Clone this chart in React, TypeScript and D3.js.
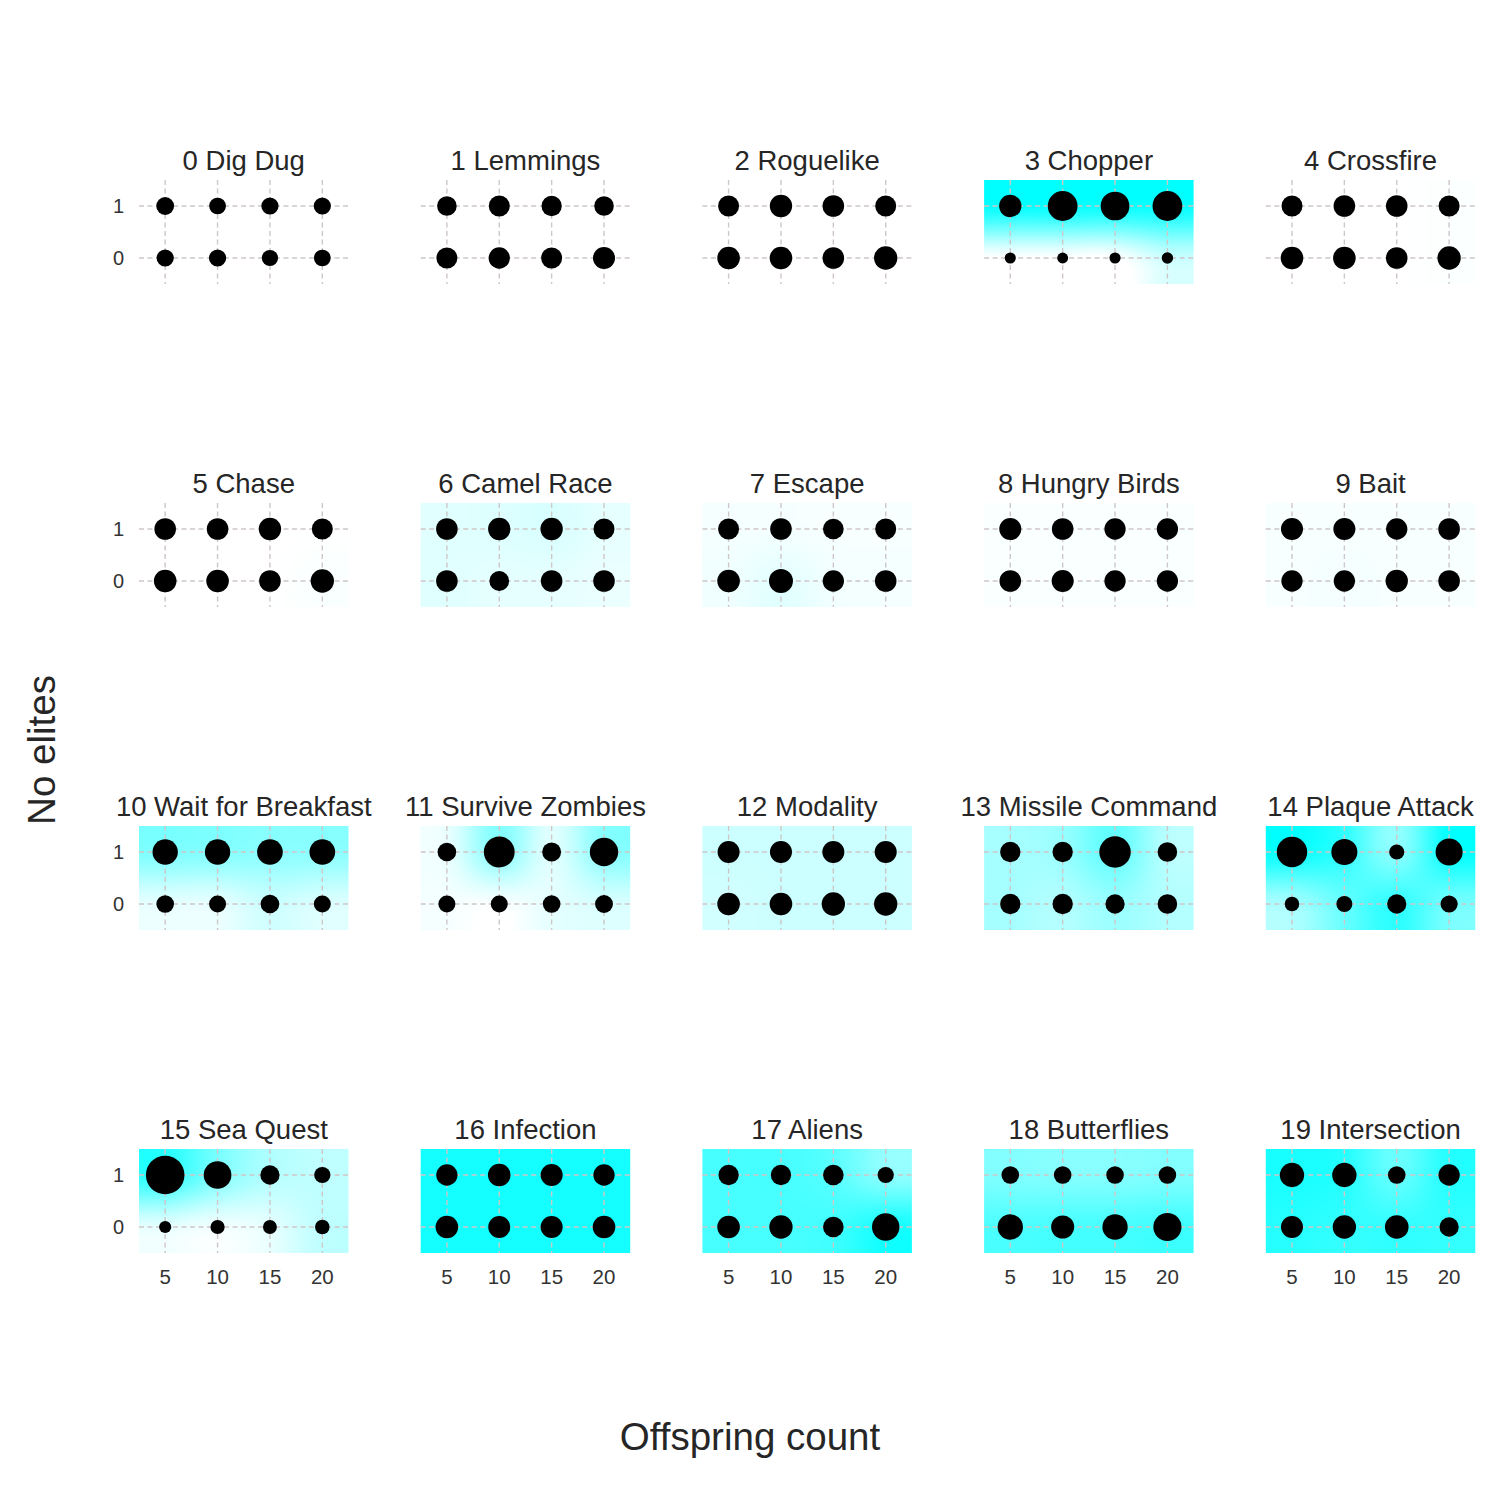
import React, { useMemo } from "react";
import * as d3 from "d3";

const gameNames = [
  "0 Dig Dug", "1 Lemmings", "2 Roguelike", "3 Chopper", "4 Crossfire",
  "5 Chase", "6 Camel Race", "7 Escape", "8 Hungry Birds", "9 Bait",
  "10 Wait for Breakfast", "11 Survive Zombies", "12 Modality", "13 Missile Command", "14 Plaque Attack",
  "15 Sea Quest", "16 Infection", "17 Aliens", "18 Butterflies", "19 Intersection",
];
const offspringCounts = [5, 10, 15, 20];
const eliteLevels = [1, 0];
const xTickLabels = ["5", "10", "15", "20"];
const yTickLabels = ["0", "1"];

// dot magnitude per panel: first 4 = elites 1 (offspring 5..20), last 4 = elites 0
const dotSizes = [
  [77, 68, 72, 72, 72, 72, 64, 68],
  [93, 107, 100, 93, 107, 110, 107, 118],
  [107, 121, 113, 107, 124, 124, 113, 132],
  [121, 215, 200, 215, 30, 29, 30, 32],
  [107, 113, 113, 107, 124, 124, 113, 132],
  [113, 113, 121, 107, 124, 124, 113, 132],
  [113, 121, 121, 107, 113, 95, 113, 113],
  [107, 113, 104, 107, 124, 140, 110, 113],
  [118, 113, 110, 110, 113, 118, 110, 110],
  [118, 118, 110, 113, 110, 110, 121, 113],
  [156, 156, 160, 160, 75, 70, 84, 70],
  [84, 230, 87, 196, 70, 70, 75, 78],
  [118, 118, 118, 118, 124, 124, 132, 132],
  [100, 100, 240, 93, 100, 100, 90, 93],
  [225, 165, 56, 178, 51, 62, 90, 72],
  [361, 186, 90, 64, 36, 49, 47, 51],
  [110, 124, 118, 110, 124, 118, 118, 124],
  [100, 100, 103, 64, 124, 132, 103, 182],
  [75, 75, 75, 75, 156, 129, 156, 192],
  [144, 144, 75, 110, 118, 132, 136, 90],
];

// background intensity per panel (0 = white, 1 = cyan), same cell order
const heatValues = [
  [0, 0, 0, 0, 0, 0, 0, 0],
  [0, 0, 0, 0, 0, 0, 0, 0],
  [0, 0, 0, 0, 0, 0, 0, 0],
  [0.97, 0.97, 0.95, 0.97, 0, 0, 0, 0.2],
  [0, 0, 0, 0.01, 0, 0, 0, 0.01],
  [0, 0, 0, 0, 0, 0, 0, 0.02],
  [0.12, 0.13, 0.15, 0.1, 0.12, 0.1, 0.1, 0.08],
  [0.04, 0.04, 0.03, 0.03, 0.06, 0.11, 0.05, 0.04],
  [0.02, 0.02, 0.02, 0.02, 0.02, 0.02, 0.02, 0.02],
  [0.03, 0.03, 0.03, 0.03, 0.03, 0.04, 0.03, 0.03],
  [0.5, 0.48, 0.45, 0.45, 0.1, 0.1, 0.2, 0.14],
  [0.08, 0.45, 0.12, 0.45, 0.04, 0.02, 0.1, 0.15],
  [0.2, 0.2, 0.2, 0.2, 0.18, 0.2, 0.2, 0.2],
  [0.35, 0.4, 0.6, 0.28, 0.35, 0.3, 0.4, 0.3],
  [0.95, 0.8, 0.45, 0.95, 0.35, 0.6, 0.8, 0.55],
  [0.8, 0.5, 0.3, 0.25, 0.1, 0.05, 0.1, 0.25],
  [0.92, 0.92, 0.92, 0.92, 0.92, 0.92, 0.92, 0.92],
  [0.72, 0.72, 0.65, 0.45, 0.72, 0.72, 0.75, 0.9],
  [0.5, 0.48, 0.48, 0.5, 0.7, 0.72, 0.72, 0.75],
  [0.9, 0.85, 0.6, 0.85, 0.85, 0.8, 0.8, 0.8],
];

const W = 1500;
const H = 1500;
const panelLeft0 = 139;
const panelStepX = 281.7;
const panelTop0 = 180;
const panelStepY = 323;
const panelW = 209.5;
const panelH = 104;
const FONT = "'Liberation Sans', Arial, Helvetica, sans-serif";

const xScale = d3.scaleLinear().domain([2.5, 22.5]).range([0, panelW]);
const yScale = d3.scaleLinear().domain([-0.5, 1.5]).range([panelH, 0]);
const rScale = d3.scaleSqrt().domain([0, 400]).range([0, 20.3]);
const colorScale = d3.scaleLinear<string>().domain([0, 1]).range(["#ffffff", "#00ffff"]).interpolate(d3.interpolateRgb).clamp(true);

function cubicWeights(t: number) {
  const t2 = t * t;
  const t3 = t2 * t;
  return [
    (-t3 + 2 * t2 - t) / 2,
    (3 * t3 - 5 * t2 + 2) / 2,
    (-3 * t3 + 4 * t2 + t) / 2,
    (t3 - t2) / 2,
  ];
}

function sampleGrid(vals: number[], u: number, v: number) {
  const iu = Math.floor(u);
  const iv = Math.floor(v);
  const wu = cubicWeights(u - iu);
  const wv = cubicWeights(v - iv);
  let s = 0;
  for (let j = 0; j < 4; j++) {
    const r = Math.min(1, Math.max(0, iv - 1 + j));
    for (let i = 0; i < 4; i++) {
      const c = Math.min(3, Math.max(0, iu - 1 + i));
      s += wv[j] * wu[i] * vals[r * 4 + c];
    }
  }
  return s;
}

function makeHeatImage(vals: number[]) {
  const cw = Math.round(panelW);
  const ch = Math.round(panelH);
  const canvas = document.createElement("canvas");
  canvas.width = cw;
  canvas.height = ch;
  const ctx = canvas.getContext("2d");
  if (!ctx) return "";
  const img = ctx.createImageData(cw, ch);
  for (let py = 0; py < ch; py++) {
    const yv = yScale.invert(py + 0.5);
    const v = 1 - yv;
    for (let px = 0; px < cw; px++) {
      const xv = xScale.invert(px + 0.5);
      const u = (xv - 5) / 5;
      const val = sampleGrid(vals, u, v);
      const col = d3.rgb(colorScale(val));
      const k = (py * cw + px) * 4;
      img.data[k] = col.r;
      img.data[k + 1] = col.g;
      img.data[k + 2] = col.b;
      img.data[k + 3] = 255;
    }
  }
  ctx.putImageData(img, 0, 0);
  return canvas.toDataURL();
}

function Panel({ idx }: { idx: number }) {
  const col = idx % 5;
  const row = Math.floor(idx / 5);
  const left = panelLeft0 + col * panelStepX;
  const top = panelTop0 + row * panelStepY;
  const href = useMemo(() => makeHeatImage(heatValues[idx]), [idx]);
  const sizes = dotSizes[idx];
  return (
    <g transform={`translate(${left},${top})`}>
      <text x={panelW / 2} y={-10} textAnchor="middle" fontSize={27.5} fill="#262626" fontFamily={FONT}>
        {gameNames[idx]}
      </text>
      {href && (
        <image href={href} x={0} y={0} width={panelW} height={panelH} preserveAspectRatio="none" />
      )}
      {offspringCounts.map((o) => (
        <line key={`gx${o}`} x1={xScale(o)} x2={xScale(o)} y1={0} y2={panelH}
          stroke="#cfc6c6" strokeWidth={1.4} strokeDasharray="5,3.5" />
      ))}
      {eliteLevels.map((e) => (
        <line key={`gy${e}`} x1={0} x2={panelW} y1={yScale(e)} y2={yScale(e)}
          stroke="#cfc6c6" strokeWidth={1.4} strokeDasharray="5,3.5" />
      ))}
      {eliteLevels.map((e, ri) =>
        offspringCounts.map((o, ci) => (
          <circle key={`d${e}-${o}`} cx={xScale(o)} cy={yScale(e)} r={rScale(sizes[ri * 4 + ci])} fill="#000" />
        ))
      )}
      {col === 0 &&
        yTickLabels.map((t) => (
          <text key={`yt${t}`} x={-15} y={yScale(+t)} dy="0.35em" textAnchor="end" fontSize={20} fill="#333" fontFamily={FONT}>
            {t}
          </text>
        ))}
      {row === 3 &&
        xTickLabels.map((t) => (
          <text key={`xt${t}`} x={xScale(+t)} y={panelH + 31} textAnchor="middle" fontSize={20.5} fill="#333" fontFamily={FONT}>
            {t}
          </text>
        ))}
    </g>
  );
}

export default function App() {
  return (
    <svg width={W} height={H} viewBox={`0 0 ${W} ${H}`}
      style={{ position: "absolute", left: 0, top: 0, background: "#fff" }}>
      <rect x={0} y={0} width={W} height={H} fill="#fff" />
      {gameNames.map((_, i) => (
        <Panel key={i} idx={i} />
      ))}
      <text x={750} y={1450} textAnchor="middle" fontSize={38.5} fill="#262626" fontFamily={FONT}>
        Offspring count
      </text>
      <text transform="translate(55,750) rotate(-90)" textAnchor="middle" fontSize={38.5} fill="#262626" fontFamily={FONT}>
        No elites
      </text>
    </svg>
  );
}
